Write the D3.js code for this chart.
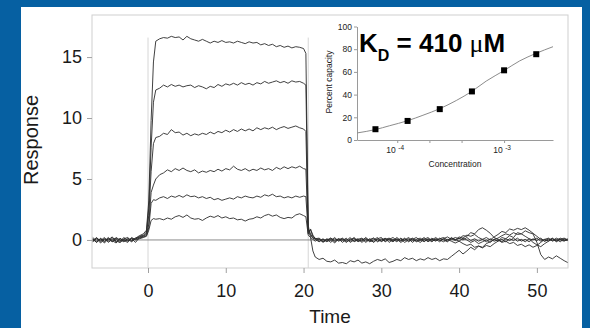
<!DOCTYPE html>
<html>
<head>
<meta charset="utf-8">
<script src="https://cdn.jsdelivr.net/npm/d3@7"></script>
<style>
  html, body { margin: 0; padding: 0; background: #0660a2; }
  svg { display: block; }
</style>
</head>
<body>
<svg id="chart" width="590" height="328"></svg>
<script>
// ---- sensorgram data: sample times (s) and response of six injections ----
const timeSec = [
  -7.1,-6.6,-6.1,-5.6,-5.1,-4.6,-4.1,-3.6,-3.1,-2.6,-2.1,-1.6,-1.1,-0.6,-0.2,
  0.1,0.4,0.7,1.0,
  1.5,2,2.5,3,3.5,4,4.5,5,5.5,6,6.5,7,7.5,8,8.5,9,9.5,10,10.5,11,11.5,12,12.5,13,13.5,14,14.5,15,15.5,16,16.5,17,17.5,18,18.5,19,19.5,20,
  20.3,20.6,20.9,21.2,21.5,
  22,22.5,23,23.5,24,24.5,25,25.5,26,26.5,27,27.5,28,28.5,29,29.5,30,30.5,31,31.5,
  32,32.5,33,33.5,34,34.5,35,35.5,36,36.5,37,37.5,38,38.5,39,39.5,40,40.5,41,41.5,
  42,42.5,43,43.5,44,44.5,45,45.5,46,46.5,47,47.5,48,48.5,49,49.5,50,50.5,51,51.5,
  52,52.5,53,53.5,53.95
];

const trace1 = [
  0.1,-0.2,0.15,-0.1,0.2,-0.15,0.05,-0.2,0.1,0.2,-0.1,0.15,0.35,0.5,0.8,
  3.2,9.8,14.6,16.3,
  16.5,16.6,16.55,16.7,16.6,16.65,16.4,16.7,16.5,16.4,16.3,16.45,16.3,16.15,16.3,16.2,16.35,16.2,16.25,16.15,
  16.3,16.2,16.1,16.25,16.15,16.2,16.0,16.1,15.95,16.05,15.85,15.95,15.8,15.9,15.75,15.85,15.8,15.7,
  15.3,1.2,0.2,-0.9,-1.4,
  -1.6,-1.5,-1.75,-1.8,-1.65,-1.9,-1.85,-1.95,-1.7,-1.8,-1.65,-1.9,-1.8,-1.95,-1.75,-1.6,-1.7,-1.55,-1.85,-1.75,
  -1.6,-1.7,-1.45,-1.6,-1.5,-1.7,-1.55,-1.65,-1.45,-1.6,-1.5,-1.7,-1.55,-1.6,-1.35,-1.1,-0.85,-1.15,-0.9,-0.6,
  -0.8,-0.5,-0.6,-0.3,-0.15,0.05,-0.1,0.2,0.1,0.35,0.2,0.6,0.5,0.75,0.6,0.5,-0.2,-1.2,-1.6,-1.4,
  -1.55,-1.3,-1.5,-1.7,-1.85
];

const trace2 = [
  -0.15,0.1,-0.25,0.05,-0.1,0.2,-0.2,0.1,-0.05,-0.2,0.15,0.05,0.3,0.4,0.65,
  2.6,7.6,11.3,12.3,
  12.45,12.7,12.55,12.75,12.6,12.7,12.55,12.65,12.7,12.5,12.65,12.55,12.4,12.6,12.5,12.75,12.6,12.8,12.7,12.85,
  12.7,12.9,12.75,12.85,12.7,12.9,12.8,13.0,12.85,12.95,13.05,12.9,13.0,12.85,13.05,12.95,13.0,12.85,
  12.7,0.9,0.5,0.2,0.1,
  0.15,-0.1,0.05,-0.2,0.1,-0.05,0.15,-0.15,0.0,0.2,-0.1,0.1,-0.2,0.05,0.15,-0.1,0.1,-0.15,0.05,0.2,
  -0.05,0.1,-0.2,0.0,0.15,-0.1,0.05,-0.15,0.1,0.0,0.2,-0.05,0.1,0.25,0.05,0.2,0.1,0.35,0.3,0.6,
  0.5,0.85,1.0,0.8,0.55,0.2,0.05,-0.15,0.1,-0.05,0.15,-0.1,0.05,-0.15,0.1,0.0,0.15,-0.1,0.05,0.15,
  -0.1,0.05,-0.15,0.1,0.0
];

const trace3 = [
  0.05,-0.2,0.1,-0.15,0.15,-0.05,-0.25,0.15,-0.1,0.05,-0.15,0.1,0.25,0.35,0.55,
  2.0,5.6,7.9,8.4,
  8.5,8.75,8.65,9.05,8.8,8.85,8.6,8.75,8.55,8.7,8.6,8.75,8.65,8.85,8.7,8.9,8.8,9.0,8.85,9.05,
  8.9,9.1,8.95,9.1,8.95,9.2,9.05,9.2,9.1,9.25,9.05,9.2,9.3,9.15,9.25,9.35,9.2,9.1,
  8.9,0.7,0.8,0.3,0.15,
  -0.1,0.1,-0.15,0.05,-0.25,0.1,-0.05,0.15,-0.2,0.0,0.1,-0.2,0.05,-0.1,0.15,-0.15,0.0,0.15,-0.2,0.05,
  -0.15,0.15,-0.05,0.1,-0.2,0.05,0.15,-0.1,0.05,-0.15,0.1,0.0,-0.15,0.05,-0.1,-0.25,-0.1,-0.3,-0.45,-0.35,
  -0.6,-0.5,-0.65,-0.45,-0.55,-0.3,-0.1,0.05,-0.15,0.1,-0.05,0.15,-0.1,0.05,-0.15,0.1,-0.05,0.15,-0.1,0.0,
  0.15,-0.1,0.05,-0.05,0.1
];

const trace4 = [
  -0.1,0.15,-0.05,0.2,-0.2,0.05,0.15,-0.1,0.2,-0.05,0.1,-0.2,0.2,0.3,0.45,
  1.3,3.9,4.5,5.0,
  5.35,5.5,5.75,5.6,5.85,5.7,5.9,5.7,5.6,5.75,5.5,5.65,5.55,5.7,5.6,5.8,5.65,5.85,5.75,6.05,
  5.8,5.7,5.85,5.65,5.8,5.7,5.9,5.75,5.85,5.7,5.95,5.8,6.0,5.85,6.0,5.9,6.05,5.85,
  5.8,0.5,0.9,0.4,0.1,
  0.05,-0.15,0.1,-0.05,0.2,-0.1,0.05,-0.2,0.1,-0.1,0.05,0.15,-0.1,0.1,-0.2,0.05,-0.1,0.1,0.0,-0.15,
  0.1,-0.1,0.15,-0.15,0.05,0.2,-0.05,0.1,-0.15,0.05,-0.1,0.15,0.0,-0.15,0.1,-0.05,0.15,0.0,0.2,-0.05,
  0.1,-0.1,0.05,0.2,0.0,0.25,0.45,0.7,0.6,0.9,0.8,0.95,0.85,1.0,0.8,0.55,0.3,0.05,-0.1,0.1,
  -0.05,0.15,0.0,-0.1,0.05
];

const trace5 = [
  0.2,-0.1,0.05,-0.25,0.1,-0.15,0.2,0.0,-0.15,0.15,-0.05,0.15,0.15,0.25,0.35,
  1.0,3.0,3.3,3.25,
  3.45,3.55,3.4,3.6,3.5,3.65,3.5,3.7,3.55,3.6,3.45,3.55,3.4,3.5,3.3,3.4,3.25,3.35,3.45,3.35,
  3.55,3.45,3.6,3.5,3.45,3.6,3.5,3.7,3.6,3.75,3.55,3.6,3.45,3.55,3.45,3.6,3.5,3.6,
  3.55,0.6,0.4,0.15,0.05,
  -0.15,0.05,-0.1,0.15,-0.05,0.1,-0.2,0.05,-0.1,0.15,-0.15,0.0,0.15,-0.15,0.0,0.2,-0.15,0.05,0.15,-0.05,
  0.2,-0.05,0.1,-0.1,0.1,-0.15,0.0,0.2,-0.1,0.15,-0.05,0.1,0.2,0.0,0.15,0.05,-0.1,0.15,0.0,-0.2,
  -0.05,-0.3,-0.15,0.0,-0.2,0.05,0.15,0.35,0.5,0.4,0.6,0.45,0.5,0.3,0.1,-0.2,-0.4,-0.55,-0.3,-0.1,
  0.1,-0.05,0.15,0.0,-0.05
];

const trace6 = [
  -0.05,0.2,-0.15,0.1,0.0,0.25,-0.1,-0.2,0.05,-0.1,0.2,0.0,0.1,0.2,0.3,
  0.8,1.6,1.75,1.7,
  1.75,1.65,1.8,1.7,1.9,2.0,1.85,2.05,1.8,1.7,1.75,1.6,1.8,1.95,1.85,2.0,1.8,1.9,1.75,1.8,
  1.65,1.7,1.55,1.7,1.75,1.9,1.8,2.0,2.1,1.95,2.05,1.85,1.75,1.85,1.8,2.05,2.15,2.0,
  1.9,0.4,0.2,0.05,-0.1,
  0.1,-0.2,0.0,0.15,-0.15,0.05,0.1,-0.05,0.2,-0.15,0.0,-0.1,0.2,-0.05,-0.15,0.1,0.2,-0.1,0.1,-0.1,
  0.05,-0.2,0.0,0.2,-0.05,0.0,-0.2,0.05,0.2,-0.1,0.05,-0.15,0.1,-0.1,0.2,0.0,0.25,0.15,0.4,0.3,
  0.45,0.2,0.05,-0.15,0.1,-0.1,0.0,-0.2,-0.1,-0.3,-0.2,-0.45,-0.35,-0.55,-0.4,-0.6,-0.45,-0.2,0.05,-0.1,
  0.1,-0.15,0.05,0.15,0.0
];

const traces = [trace1, trace2, trace3, trace4, trace5, trace6];
const timeTicks = [0, 10, 20, 30, 40, 50];
const responseTicks = [0, 5, 10, 15];
const injectionTimes = [0, 20.6];

// ---- inset: steady-state binding vs concentration ----
const concM      = [6.25e-5, 1.25e-4, 2.5e-4, 5e-4, 1e-3, 2e-3];
const percentCap = [9.5, 16.8, 27.2, 42.8, 61.4, 75.6];
const fitConc    = [4.2e-5, 6.25e-5, 8.5e-5, 1.25e-4, 1.74e-4, 2.5e-4, 3.57e-4, 5e-4, 6.8e-4, 1e-3, 1.4e-3, 2e-3, 2.87e-3];
const fitPct     = [6.2, 9.2, 12.6, 17.0, 21.8, 27.6, 34.8, 42.9, 51.9, 61.2, 69.7, 76.4, 82.2];
const insetPctTicks  = [0, 20, 40, 60, 80, 100];
const insetConcTicks = [1e-4, 2e-4, 4e-4, 1e-3];
const insetConcLabels = [[1e-4, "-4"], [1e-3, "-3"]];

const FONT = "'Liberation Sans', Arial, Helvetica, sans-serif";
const svg = d3.select("#chart");

// white slide panel
svg.append("rect").attr("x", 21).attr("y", 7).attr("width", 561).attr("height", 330).attr("fill", "#ffffff");

// ---- main sensorgram ----
const x = d3.scaleLinear().domain([-7.2, 54.0]).range([92, 568]);
const y = d3.scaleLinear().domain([-2.3, 18.45]).range([268, 15]);

svg.append("rect")
  .attr("x", x.range()[0]).attr("y", y.range()[1])
  .attr("width", x.range()[1] - x.range()[0]).attr("height", y.range()[0] - y.range()[1])
  .attr("fill", "none").attr("stroke", "#cfcfcf").attr("stroke-width", 1);

// injection start / stop markers
svg.selectAll("line.inj").data(injectionTimes).join("line")
  .attr("class", "inj")
  .attr("x1", d => x(d)).attr("x2", d => x(d))
  .attr("y1", y(16.6)).attr("y2", y.range()[0])
  .attr("stroke", "#d6d6d6").attr("stroke-width", 1);

// zero baseline
svg.append("line")
  .attr("x1", x.range()[0]).attr("x2", x.range()[1])
  .attr("y1", y(0)).attr("y2", y(0))
  .attr("stroke", "#8a8a8a").attr("stroke-width", 1);

const yAxis = svg.append("g").attr("transform", `translate(${x.range()[0]},0)`)
  .call(d3.axisLeft(y).tickValues(responseTicks).tickSize(5).tickPadding(5).tickSizeOuter(0));
const xAxis = svg.append("g").attr("transform", `translate(0,${y.range()[0]})`)
  .call(d3.axisBottom(x).tickValues(timeTicks).tickSize(5).tickPadding(11).tickSizeOuter(0));
[xAxis, yAxis].forEach(g => {
  g.select(".domain").remove();
  g.selectAll(".tick line").attr("stroke", "#a0a0a0");
  g.selectAll(".tick text").attr("font-family", FONT).attr("font-size", 18).attr("fill", "#1a1a1a");
});

const line = d3.line().x((d, i) => x(timeSec[i])).y(d => y(d));
svg.append("g").selectAll("path").data(traces).join("path")
  .attr("d", d => line(d))
  .attr("fill", "none").attr("stroke", "#2b2b2b").attr("stroke-width", 0.9)
  .attr("stroke-linejoin", "round");

svg.append("text")
  .attr("transform", "translate(38,140) rotate(-90)")
  .attr("text-anchor", "middle")
  .attr("font-family", FONT).attr("font-size", 20).attr("fill", "#1a1a1a")
  .text("Response");
svg.append("text")
  .attr("x", 330).attr("y", 323)
  .attr("text-anchor", "middle")
  .attr("font-family", FONT).attr("font-size", 19).attr("fill", "#1a1a1a")
  .text("Time");

// ---- inset binding isotherm ----
const ix = d3.scaleLog().domain([4.2e-5, 2.87e-3]).range([357, 553]);
const iy = d3.scaleLinear().domain([0, 100]).range([140, 26.5]);

const iyAxis = svg.append("g").attr("transform", `translate(${ix.range()[0]},0)`)
  .call(d3.axisLeft(iy).tickValues(insetPctTicks).tickSize(3).tickPadding(2).tickSizeOuter(0));
const ixAxis = svg.append("g").attr("transform", `translate(0,${iy.range()[0]})`)
  .call(d3.axisBottom(ix).tickValues(insetConcTicks).tickSize(3).tickFormat("").tickSizeOuter(0));
[iyAxis, ixAxis].forEach(g => {
  g.select(".domain").attr("stroke", "#9a9a9a");
  g.selectAll(".tick line").attr("stroke", "#9a9a9a");
  g.selectAll(".tick text").attr("font-family", FONT).attr("font-size", 8.5).attr("fill", "#222");
});

const powLabels = svg.append("g").selectAll("text").data(insetConcLabels).join("text")
  .attr("x", d => ix(d[0]) - 2).attr("y", 153)
  .attr("text-anchor", "middle")
  .attr("font-family", FONT).attr("font-size", 8.5).attr("fill", "#222");
powLabels.append("tspan").text("10");
powLabels.append("tspan").attr("dx", 2.5).attr("dy", -3.5).attr("font-size", 6.5).text(d => d[1]);

svg.append("text")
  .attr("x", 455).attr("y", 167)
  .attr("text-anchor", "middle")
  .attr("font-family", FONT).attr("font-size", 8.5).attr("fill", "#222")
  .text("Concentration");
svg.append("text")
  .attr("transform", "translate(332,82) rotate(-90)")
  .attr("text-anchor", "middle")
  .attr("font-family", FONT).attr("font-size", 8.5).attr("fill", "#222")
  .text("Percent capacity");

const fitLine = d3.line().curve(d3.curveMonotoneX)
  .x((d, i) => ix(fitConc[i])).y(d => iy(d));
svg.append("path").attr("d", fitLine(fitPct))
  .attr("fill", "none").attr("stroke", "#8c8c8c").attr("stroke-width", 1);

svg.append("g").selectAll("rect").data(percentCap).join("rect")
  .attr("x", (d, i) => ix(concM[i]) - 3).attr("y", d => iy(d) - 3)
  .attr("width", 6).attr("height", 6).attr("fill", "#000");

// dissociation constant annotation
const kd = svg.append("text").attr("x", 359).attr("y", 52)
  .attr("font-family", FONT).attr("font-weight", "bold").attr("font-size", 26).attr("fill", "#000");
kd.append("tspan").text("K");
kd.append("tspan").attr("dy", 9).attr("font-size", 16).text("D");
kd.append("tspan").attr("dy", -9).text(" = 410 ");
kd.append("tspan").attr("font-family", "'Liberation Serif', 'DejaVu Serif', serif").attr("font-weight", "normal").text("μ");
kd.append("tspan").text("M");
</script>
</body>
</html>
